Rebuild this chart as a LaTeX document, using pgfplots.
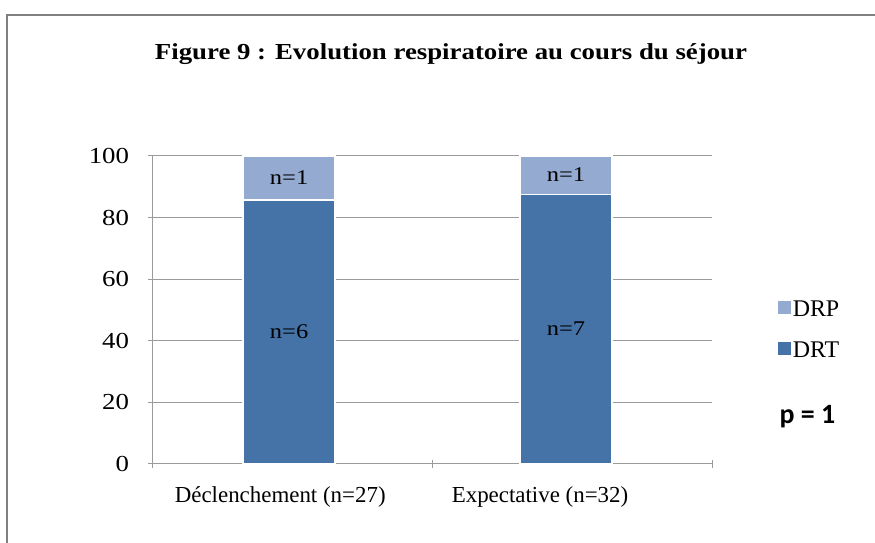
\documentclass[border=0pt]{standalone}
\usepackage{pgfplots}
\pgfplotsset{compat=1.18}
\usepackage{fontspec}
\setmainfont{Liberation Serif}
\newfontfamily\calibri{Carlito}
\definecolor{drt}{RGB}{69,114,167}
\definecolor{drp}{RGB}{149,170,208}
\definecolor{gridc}{RGB}{155,155,155}
\definecolor{framec}{RGB}{128,128,128}
\newcommand{\wide}[1]{\scalebox{1.17}[1]{#1}}
\begin{document}
\begin{tikzpicture}[x=1bp,y=1bp]
\path[use as bounding box] (0,0) rectangle (875,543);
\begin{scope}
\clip (0,0) rectangle (875,543);
\draw[line width=2bp, framec] (7,-20) rectangle (900,528);
\end{scope}
\node[font=\bfseries\fontsize{23}{27}\selectfont] at (451,489) {\wide{Figure 9 : Evolution respiratoire au cours du séjour}};
\begin{axis}[
  at={(152bp,79bp)}, anchor=south west,
  scale only axis, width=560bp, height=308bp,
  xmin=-0.495, xmax=1.527, ymin=0, ymax=100,
  ybar stacked, bar width=92bp,
  ytick={0,20,...,100},
  yticklabel={\wide{\pgfmathprintnumber{\tick}}},
  xtick={-0.032,0.906}, xticklabels={Déclenchement (n=27), Expectative (n=32)},
  minor xtick={-0.495,0.516,1.527},
  major x tick style={draw=none},
  tick align=outside, major tick length=9bp, minor tick length=8bp,
  tick style={gridc, line width=1bp},
  axis lines=left,
  axis line style={gridc, line width=1bp, -},
  every outer x axis line/.append style={-},
  every outer y axis line/.append style={-},
  ymajorgrids, grid style={gridc, line width=1bp},
  yticklabel style={font=\fontsize{23}{26}\selectfont, xshift=-15bp},
  xticklabel style={font=\fontsize{23}{26}\selectfont, yshift=-15bp},
  /pgf/number format/assume math mode=true,
  legend style={draw=none, fill=none, at={(1.118,0.435)}, anchor=west,
    font=\fontsize{24}{28}\selectfont, row sep=20bp, inner sep=0pt},
  legend cell align=left,
  reverse legend,
  clip=false,
]
\addplot[fill=drt, draw=white, line width=1.5bp,
  legend image code/.code={\fill[drt] (0bp,-4bp) rectangle (11bp,8bp);}]
  coordinates {(0,85.714) (1,87.5)};
\addplot[fill=drp, draw=white, line width=1.5bp,
  legend image code/.code={\fill[drp] (0bp,-4bp) rectangle (11bp,8bp);}]
  coordinates {(0,14.286) (1,12.5)};
\legend{DRT, DRP}
\coordinate (a6) at (axis cs:0,42.9);
\coordinate (a1) at (axis cs:0,92.9);
\coordinate (b7) at (axis cs:1,43.8);
\coordinate (b1) at (axis cs:1,93.8);
\end{axis}
\node[font=\fontsize{21}{24}\selectfont] at (a6) {\wide{n=6}};
\node[font=\fontsize{21}{24}\selectfont] at (a1) {\wide{n=1}};
\node[font=\fontsize{21}{24}\selectfont] at (b7) {\wide{n=7}};
\node[font=\fontsize{21}{24}\selectfont] at (b1) {\wide{n=1}};
\node[font=\calibri\bfseries\fontsize{28}{32}\selectfont, anchor=west] at (776,126) {p = 1};
\end{tikzpicture}
\end{document}
